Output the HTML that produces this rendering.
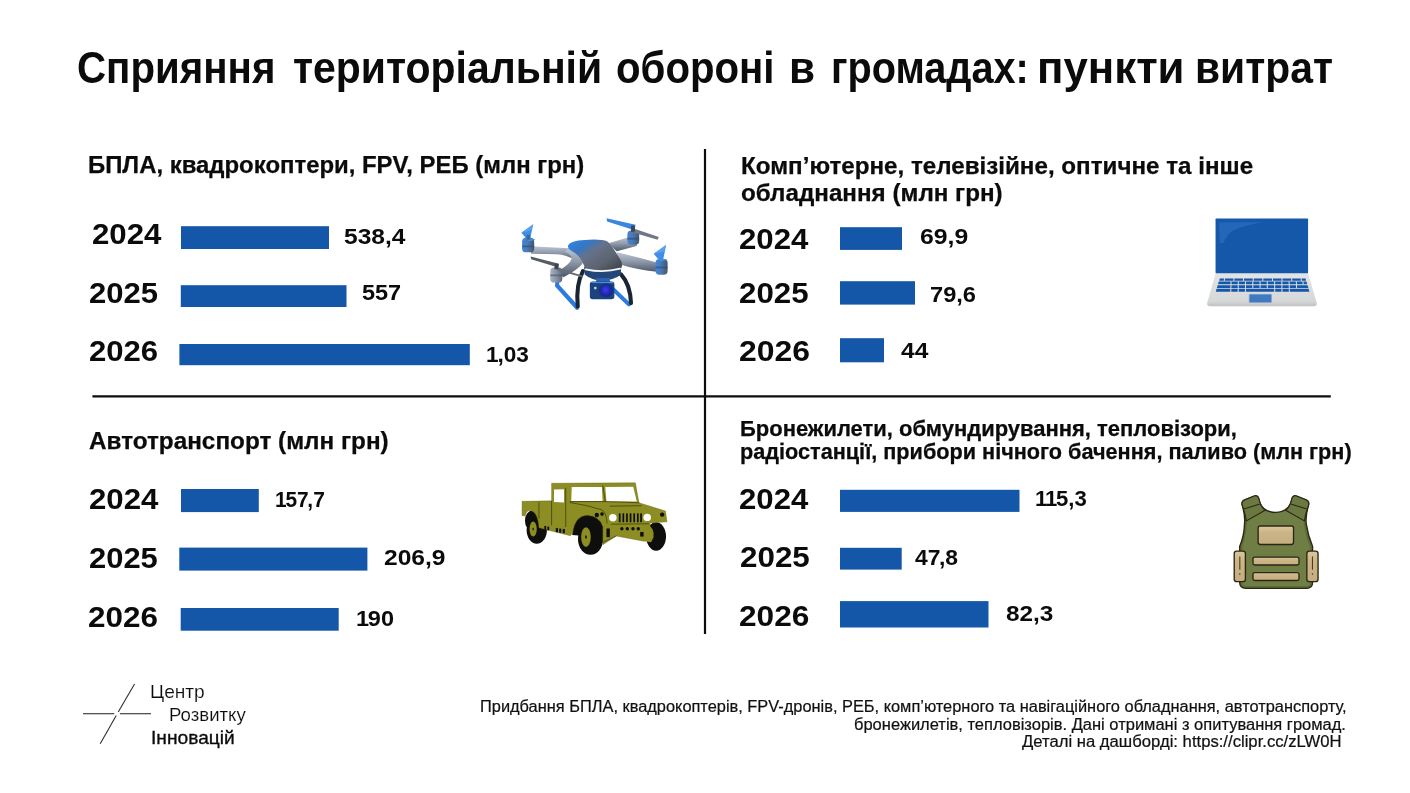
<!DOCTYPE html>
<html lang="uk">
<head>
<meta charset="utf-8">
<title>Сприяння територіальній обороні в громадах: пункти витрат</title>
<style>
html,body{margin:0;padding:0;background:#fff;}
body{width:1410px;height:793px;position:relative;overflow:hidden;font-family:"Liberation Sans",sans-serif;color:#0b0b0b;}
.t{position:absolute;white-space:nowrap;transform-origin:0 0;margin:0;}
.b{font-weight:bold;}
.n{font-weight:normal;color:#111;-webkit-text-stroke:0.22px #111;}
.o{letter-spacing:-1.2px;}
.s{letter-spacing:-1.5px;}
.lt{font-weight:normal;color:#0c0c0c;-webkit-text-stroke:0.15px #fff;}
.lm{font-weight:normal;color:#0a0a0a;-webkit-text-stroke:0.32px #0a0a0a;}
svg{position:absolute;display:block;overflow:visible;}
</style>
</head>
<body>
<h1 style="margin:0;font-size:inherit">
<span class="t b" id="tw0" style="left:77.13px;top:40.51px;font-size:44.3px;line-height:53.16px;transform:scaleX(0.9092);">Сприяння </span>
<span class="t b" id="tw1" style="left:292.64px;top:40.51px;font-size:44.3px;line-height:53.16px;transform:scaleX(0.9244);">територіальній </span>
<span class="t b" id="tw2" style="left:615.53px;top:40.51px;font-size:44.3px;line-height:53.16px;transform:scaleX(0.9077);">обороні </span>
<span class="t b" id="tw3" style="left:788.61px;top:40.51px;font-size:44.3px;line-height:53.16px;transform:scaleX(0.9569);">в </span>
<span class="t b" id="tw4" style="left:831.24px;top:40.51px;font-size:44.3px;line-height:53.16px;transform:scaleX(0.8953);">громадах: </span>
<span class="t b" id="tw5" style="left:1036.70px;top:40.51px;font-size:44.3px;line-height:53.16px;transform:scaleX(0.9884);">пункти </span>
<span class="t b" id="tw6" style="left:1195.19px;top:40.51px;font-size:44.3px;line-height:53.16px;transform:scaleX(0.9223);">витрат </span>
</h1>
<h2 class="t b" id="h1" style="left:87.99px;top:150.71px;font-size:23.8px;line-height:28.56px;transform:scaleX(1.0047);-webkit-text-stroke:0.25px #0b0b0b;">БПЛА, квадрокоптери, FPV, РЕБ (млн грн)</h2>
<h2 class="t b" id="h2a" style="left:740.98px;top:151.71px;font-size:23.8px;line-height:28.56px;transform:scaleX(1.0157);-webkit-text-stroke:0.25px #0b0b0b;">Комп’ютерне, телевізійне, оптичне та інше</h2>
<div class="t b" id="h2b" style="left:740.99px;top:179.30px;font-size:23.8px;line-height:28.56px;transform:scaleX(1.0166);-webkit-text-stroke:0.25px #0b0b0b;">обладнання (млн грн)</div>
<h2 class="t b" id="h3" style="left:88.98px;top:427.00px;font-size:23.8px;line-height:28.56px;transform:scaleX(1.0207);-webkit-text-stroke:0.25px #0b0b0b;">Автотранспорт (млн грн)</h2>
<h2 class="t b" id="h4a" style="left:739.97px;top:417.31px;font-size:21.5px;line-height:25.8px;transform:scaleX(1.0222);-webkit-text-stroke:0.25px #0b0b0b;">Бронежилети, обмундирування, тепловізори,</h2>
<div class="t b" id="h4b" style="left:739.99px;top:440.31px;font-size:21.5px;line-height:25.8px;transform:scaleX(1.0077);-webkit-text-stroke:0.25px #0b0b0b;">радіостанції, прибори нічного бачення, паливо (млн грн)</div>
<div class="t b" id="y11" style="left:91.94px;top:215.91px;font-size:29.4px;line-height:35.28px;transform:scaleX(1.0625);">2024</div>
<div class="t b" id="y12" style="left:88.95px;top:274.51px;font-size:29.4px;line-height:35.28px;transform:scaleX(1.0564);">2025</div>
<div class="t b" id="y13" style="left:88.94px;top:333.41px;font-size:29.4px;line-height:35.28px;transform:scaleX(1.0574);">2026</div>
<div class="t b" id="y21" style="left:738.95px;top:220.91px;font-size:29.4px;line-height:35.28px;transform:scaleX(1.0611);">2024</div>
<div class="t b" id="y22" style="left:738.96px;top:274.60px;font-size:29.4px;line-height:35.28px;transform:scaleX(1.0631);">2025</div>
<div class="t b" id="y23" style="left:738.94px;top:332.51px;font-size:29.4px;line-height:35.28px;transform:scaleX(1.0859);">2026</div>
<div class="t b" id="y31" style="left:88.96px;top:481.21px;font-size:29.4px;line-height:35.28px;transform:scaleX(1.0611);">2024</div>
<div class="t b" id="y32" style="left:88.95px;top:540.30px;font-size:29.4px;line-height:35.28px;transform:scaleX(1.0527);">2025</div>
<div class="t b" id="y33" style="left:87.95px;top:598.51px;font-size:29.4px;line-height:35.28px;transform:scaleX(1.0700);">2026</div>
<div class="t b" id="y41" style="left:738.95px;top:480.71px;font-size:29.4px;line-height:35.28px;transform:scaleX(1.0594);">2024</div>
<div class="t b" id="y42" style="left:739.95px;top:539.21px;font-size:29.4px;line-height:35.28px;transform:scaleX(1.0676);">2025</div>
<div class="t b" id="y43" style="left:738.94px;top:597.91px;font-size:29.4px;line-height:35.28px;transform:scaleX(1.0764);">2026</div>
<div class="t b" id="v11" style="left:343.91px;top:223.01px;font-size:22.5px;line-height:27.0px;transform:scaleX(1.0909);">538,4</div>
<div class="t b" id="v12" style="left:361.98px;top:279.21px;font-size:22.5px;line-height:27.0px;transform:scaleX(1.0425);">557</div>
<div class="t b" id="v13" style="left:486.02px;top:341.01px;font-size:22.5px;line-height:27.0px;transform:scaleX(1.0053);"><span class="o">1</span>,03</div>
<div class="t b" id="v21" style="left:919.86px;top:222.80px;font-size:22.5px;line-height:27.0px;transform:scaleX(1.1005);">69,9</div>
<div class="t b" id="v22" style="left:929.95px;top:280.60px;font-size:22.5px;line-height:27.0px;transform:scaleX(1.0500);">79,6</div>
<div class="t b" id="v23" style="left:900.99px;top:337.01px;font-size:22.5px;line-height:27.0px;transform:scaleX(1.0894);">44</div>
<div class="t b" id="v31" style="left:275.11px;top:486.01px;font-size:22.5px;line-height:27.0px;transform:scaleX(0.9279);"><span class="o">1</span>5<span class="s">7</span>,7</div>
<div class="t b" id="v32" style="left:383.91px;top:544.21px;font-size:22.5px;line-height:27.0px;transform:scaleX(1.0926);">206,9</div>
<div class="t b" id="v33" style="left:355.93px;top:604.91px;font-size:22.5px;line-height:27.0px;transform:scaleX(1.0449);"><span class="o">1</span>90</div>
<div class="t b" id="v41" style="left:1034.99px;top:485.01px;font-size:22.5px;line-height:27.0px;transform:scaleX(0.9824);"><span class="o">1</span><span class="o">1</span>5,3</div>
<div class="t b" id="v42" style="left:914.98px;top:544.30px;font-size:22.5px;line-height:27.0px;transform:scaleX(1.0154);">4<span class="s">7</span>,8</div>
<div class="t b" id="v43" style="left:1005.93px;top:600.01px;font-size:22.5px;line-height:27.0px;transform:scaleX(1.0816);">82,3</div>
<div class="t n" id="n1" style="left:480.04px;top:696.00px;font-size:17.3px;line-height:20.76px;transform:scaleX(0.9476);">Придбання БПЛА, квадрокоптерів, FPV-дронів, РЕБ, комп’ютерного та навігаційного обладнання, автотранспорту,</div>
<div class="t n" id="n2" style="left:854.03px;top:713.50px;font-size:17.3px;line-height:20.76px;transform:scaleX(0.9542);">бронежилетів, тепловізорів. Дані отримані з опитування громад.</div>
<div class="t n" id="n3" style="left:1021.99px;top:731.31px;font-size:17.3px;line-height:20.76px;transform:scaleX(0.9643);">Деталі на дашборді: https://clipr.cc/zLW0H</div>
<div class="t lt" id="l1" style="left:149.95px;top:681.01px;font-size:18.5px;line-height:22.2px;transform:scaleX(1.0342);">Центр</div>
<div class="t lt" id="l2" style="left:168.98px;top:703.81px;font-size:18.5px;line-height:22.2px;transform:scaleX(1.0057);">Розвитку</div>
<div class="t lm" id="l3" style="left:150.93px;top:726.81px;font-size:18.5px;line-height:22.2px;transform:scaleX(1.0362);">Інновацій</div>
<svg id="chart" width="1410" height="793" viewBox="0 0 1410 793" style="left:0;top:0">
<line x1="705" y1="149" x2="705" y2="634" stroke="#0d0d0d" stroke-width="2.2"/>
<line x1="92.4" y1="396.4" x2="1330.8" y2="396.4" stroke="#0d0d0d" stroke-width="2.3"/>
<rect x="181.0" y="226.2" width="148.0" height="22.8" fill="#1456a8"/>
<rect x="180.8" y="285.2" width="165.7" height="21.8" fill="#1456a8"/>
<rect x="179.4" y="344.0" width="290.4" height="21.2" fill="#1456a8"/>
<rect x="840.0" y="227.2" width="62.0" height="22.7" fill="#1456a8"/>
<rect x="840.0" y="281.2" width="75.0" height="23.4" fill="#1456a8"/>
<rect x="840.0" y="338.2" width="44.0" height="24.1" fill="#1456a8"/>
<rect x="181.0" y="489.0" width="77.8" height="23.1" fill="#1456a8"/>
<rect x="179.3" y="547.6" width="188.1" height="23.0" fill="#1456a8"/>
<rect x="180.7" y="608.0" width="158.0" height="22.7" fill="#1456a8"/>
<rect x="840.0" y="489.8" width="179.5" height="22.1" fill="#1456a8"/>
<rect x="840.0" y="547.8" width="61.7" height="21.8" fill="#1456a8"/>
<rect x="840.0" y="601.1" width="148.5" height="26.4" fill="#1456a8"/>
</svg>
<svg id="logo" style="left:70px;top:670px" width="200" height="90" viewBox="0 0 1410 634">
<g stroke="#2b2b2b" stroke-width="7.5" fill="none" stroke-linecap="butt">
<line x1="455" y1="98" x2="340" y2="296"/>
<line x1="326" y1="320" x2="213" y2="520"/>
<line x1="92" y1="308" x2="312" y2="308"/>
<line x1="352" y1="308" x2="571" y2="308"/>
</g>
</svg>
<svg id="drone" style="left:500px;top:200px" width="190" height="120" viewBox="0 0 1256 793">
<defs>
<linearGradient id="dbody" x1="0" y1="0.1" x2="0.9" y2="0.9"><stop offset="0" stop-color="#2d86e6"/><stop offset="0.24" stop-color="#3577c4"/><stop offset="0.42" stop-color="#65728a"/><stop offset="0.75" stop-color="#5d646f"/><stop offset="1" stop-color="#434952"/></linearGradient>
<linearGradient id="darm" x1="0" y1="0" x2="0" y2="1"><stop offset="0" stop-color="#bcc5d2"/><stop offset="0.45" stop-color="#909bab"/><stop offset="1" stop-color="#4c586a"/></linearGradient>
<linearGradient id="dmot" x1="0" y1="0" x2="1" y2="0"><stop offset="0" stop-color="#3f86e0"/><stop offset="0.45" stop-color="#4d78b0"/><stop offset="1" stop-color="#44566e"/></linearGradient>
<linearGradient id="dmot2" x1="0" y1="0" x2="1" y2="0"><stop offset="0" stop-color="#aab4c2"/><stop offset="0.5" stop-color="#8793a6"/><stop offset="1" stop-color="#5e6a7c"/></linearGradient>
<radialGradient id="dlens" cx="0.45" cy="0.45" r="0.6"><stop offset="0" stop-color="#3d3df0"/><stop offset="0.7" stop-color="#2323b8"/><stop offset="1" stop-color="#14267a"/></radialGradient>
</defs>
<!-- back arms -->
<path d="M200 306 Q330 312 456 318 L530 350 L510 398 Q430 362 380 358 L205 356 Z" fill="url(#darm)"/>
<path d="M712 288 L850 246 L908 262 L904 304 L772 338 Z" fill="url(#darm)"/>
<!-- back motors -->
<rect x="146" y="250" width="80" height="96" rx="26" fill="url(#dmot)"/>
<rect x="842" y="202" width="78" height="94" rx="26" fill="url(#dmot)"/>
<path d="M146 300 H226 V312 H146 Z M842 250 H920 V262 H842 Z" fill="#2f4a70" opacity="0.6"/>
<!-- back props -->
<path d="M141 217 L220 160 L200 252 L236 262 L190 274 Z" fill="#3f8fe8"/>
<path d="M141 217 L220 160 L206 200 Z" fill="#5aa2f0"/>
<path d="M704 120 L896 164 L890 200 L708 142 Z" fill="#3a86e0"/>
<path d="M888 190 L1050 244 L1042 262 L884 216 Z" fill="#6f7884"/>
<rect x="866" y="168" width="26" height="42" rx="6" fill="#3c4654"/>
<rect x="176" y="230" width="24" height="32" rx="6" fill="#3a66a2"/>
<!-- front right arm -->
<path d="M770 346 Q900 374 1042 414 L1052 476 Q900 460 800 428 Z" fill="url(#darm)"/>
<!-- front left arm -->
<path d="M452 318 Q548 336 556 400 Q540 448 420 510 L376 474 Q470 424 474 384 Q462 352 430 342 Z" fill="url(#darm)"/>
<!-- legs -->
<path d="M378 540 L378 572" stroke="#2b7be0" stroke-width="26" fill="none"/>
<path d="M378 566 L510 712" stroke="#2b7be0" stroke-width="28" stroke-linecap="round" fill="none"/>
<path d="M746 588 L852 690" stroke="#2b7be0" stroke-width="27" stroke-linecap="round" fill="none"/>
<path d="M548 470 Q500 560 514 704" stroke="#1a2532" stroke-width="27" stroke-linecap="round" fill="none"/>
<path d="M800 492 Q862 560 866 682" stroke="#1a2532" stroke-width="27" stroke-linecap="round" fill="none"/>
<!-- lower body -->
<path d="M556 440 L802 430 L798 496 Q740 534 680 532 Q610 534 560 492 Z" fill="#24477a"/>
<!-- camera -->
<rect x="636" y="516" width="90" height="40" fill="#2a65b6"/>
<rect x="594" y="538" width="162" height="118" rx="18" fill="#1c4280"/>
<path d="M600 548 Q604 542 616 542 L740 542 Q750 542 752 550 Z" fill="#4d8fdc"/>
<circle cx="702" cy="598" r="48" fill="#12367a"/>
<circle cx="702" cy="598" r="37" fill="url(#dlens)"/>
<circle cx="630" cy="582" r="9" fill="#b4d4f6"/>
<!-- body -->
<path d="M450 300 Q464 268 560 264 Q670 256 710 274 Q736 294 802 404 Q816 446 788 460 Q700 482 600 468 Q560 458 544 406 Q524 364 472 336 Q444 320 450 300 Z" fill="url(#dbody)"/>
<path d="M566 458 Q680 484 794 454" stroke="#f6f9fc" stroke-width="12" fill="none" stroke-linecap="round"/>
<!-- front motors -->
<rect x="1028" y="390" width="80" height="104" rx="26" fill="url(#dmot)"/>
<path d="M1028 440 H1108 V452 H1028 Z" fill="#2f4a70" opacity="0.6"/>
<rect x="332" y="446" width="80" height="100" rx="26" fill="url(#dmot2)"/>
<path d="M332 492 H412 V504 H332 Z" fill="#4a5566" opacity="0.6"/>
<!-- front props -->
<path d="M1016 356 L1098 298 L1080 388 L1108 396 L1060 406 Z" fill="#3f8fe8"/>
<path d="M1016 356 L1098 298 L1084 340 Z" fill="#5aa2f0"/>
<path d="M202 374 L390 422 L386 446 L206 392 Z" fill="#555c66"/>
<path d="M384 450 L548 500 L544 510 L380 466 Z" fill="#666e78"/>
<rect x="360" y="422" width="26" height="36" rx="6" fill="#3c4654"/>
</svg>
<svg id="laptop" style="left:1190px;top:205px" width="140" height="115" viewBox="0 0 965 793">
<defs>
<linearGradient id="lpb" x1="0" y1="0" x2="0" y2="1"><stop offset="0" stop-color="#e3e4e5"/><stop offset="0.85" stop-color="#d6d7d8"/><stop offset="1" stop-color="#bfc1c3"/></linearGradient>
</defs>
<path d="M178 466 L812 466 L874 676 Q878 696 858 698 L134 698 Q114 696 118 676 Z" fill="url(#lpb)"/>
<rect x="176" y="93" width="638" height="377" rx="6" fill="#1557a9"/>
<path d="M200 120 L500 118 Q330 150 280 190 Q250 215 232 262 L205 262 Z" fill="#2a6cbd" opacity="0.75"/>
<g fill="#1557a9">
<path d="M205 506 L797 506 L800 522 L202 522 Z"/>
<path d="M198 528 L803 528 L808 547 L193 547 Z"/>
<path d="M190 553 L811 553 L816 572 L185 572 Z"/>
<path d="M183 578 L818 578 L823 598 L178 598 Z"/>
</g>
<g stroke="#dcdddf" stroke-width="7" fill="none">
<path d="M238 504 L236 524 M303 504 L302 524 M369 504 L368 524 M436 504 L436 524 M502 504 L502 524 M568 504 L569 524 M634 504 L635 524 M700 504 L702 524 M766 504 L768 524"/>
<path d="M283 526 L281 600 M333 526 L332 600 M383 526 L382 600 M433 526 L433 574 M483 526 L483 574 M533 526 L533 574 M583 526 L584 600 M633 526 L634 600 M683 526 L685 600 M733 526 L735 574 M778 526 L781 549"/>
</g>
<rect x="408" y="616" width="154" height="56" rx="5" fill="#3f7ac0" stroke="#7fa6d6" stroke-width="4"/>
</svg>
<svg id="car" style="left:510px;top:470px" width="170" height="95" viewBox="0 0 1410 788">
<g fill="#0e0e0c">
<!-- wheels -->
<ellipse cx="222" cy="500" rx="84" ry="112"/>
<ellipse cx="668" cy="572" rx="104" ry="132"/>
<ellipse cx="1212" cy="552" rx="82" ry="118"/>
<ellipse cx="190" cy="420" rx="66" ry="86"/>
<path d="M516 540 Q520 372 640 372 Q760 372 774 480 L774 560 Z"/>
</g>
<g fill="#8c8d22" stroke="#5c5d12" stroke-width="3" stroke-linejoin="round">
<!-- bed + side body -->
<path d="M100 260 L345 256 L345 110 L1040 106 L1070 272 L1290 340 L1302 430 L1160 440 L1170 560 L1110 590 L880 548 L770 620 L770 470 Q740 380 640 376 Q540 380 520 520 L500 545 L240 480 Q232 350 170 336 Q130 336 128 380 L100 380 Z"/>
</g>
<!-- windows -->
<g fill="#ffffff">
<path d="M365 162 L448 160 L448 270 L365 266 Z"/>
<path d="M512 142 L762 140 L768 258 L508 258 Z"/>
<path d="M790 140 L1022 138 L1052 262 L800 260 Z"/>
<circle cx="853" cy="397" r="31"/>
<circle cx="1138" cy="393" r="31"/>
</g>
<!-- hub caps -->
<g fill="#8c8d22">
<ellipse cx="192" cy="490" rx="30" ry="62"/>
<ellipse cx="630" cy="556" rx="40" ry="82"/>
<path d="M1130 450 Q1200 470 1190 560 L1170 600 L1110 590 L1120 470 Z"/>
</g>
<g fill="#0e0e0c">
<ellipse cx="192" cy="490" rx="6" ry="12"/>
<ellipse cx="630" cy="556" rx="7" ry="14"/>
<!-- grille -->
<rect x="903" y="358" width="14" height="76" rx="5"/>
<rect x="933" y="358" width="14" height="76" rx="5"/>
<rect x="963" y="358" width="14" height="76" rx="5"/>
<rect x="993" y="358" width="14" height="76" rx="5"/>
<rect x="1023" y="358" width="14" height="76" rx="5"/>
<rect x="1053" y="358" width="14" height="76" rx="5"/>
<rect x="1080" y="358" width="14" height="76" rx="5"/>
<!-- bumper dots -->
<circle cx="928" cy="487" r="14"/><circle cx="973" cy="487" r="14"/><circle cx="1020" cy="487" r="14"/><circle cx="1064" cy="487" r="14"/>
<!-- markers -->
<circle cx="720" cy="373" r="18"/><circle cx="763" cy="366" r="15"/><circle cx="1262" cy="370" r="18"/>
<rect x="800" y="485" width="28" height="72"/>
<rect x="1080" y="514" width="28" height="38"/>
<!-- side steps -->
<rect x="285" y="464" width="15" height="32"/><rect x="310" y="470" width="15" height="30"/>
<rect x="380" y="482" width="18" height="34"/><rect x="408" y="486" width="17" height="34"/><rect x="437" y="490" width="18" height="34"/>
</g>
<g fill="none" stroke="#2a2a0a" stroke-width="5" stroke-linecap="round">
<path d="M345 258 L345 455"/>
<path d="M462 150 L462 470"/>
<path d="M498 270 Q640 290 760 330 Q800 350 805 440"/>
<path d="M1070 272 L800 262 L500 262"/>
<path d="M830 300 L1090 296"/>
<path d="M840 450 L1150 446"/>
<path d="M240 270 L240 400"/>
<path d="M770 130 L790 262"/>
<path d="M770 600 L880 548"/>
</g>
</svg>
<svg id="vest" style="left:1210px;top:480px" width="130" height="120" viewBox="0 0 859 793">
<defs>
<linearGradient id="vtan" x1="0" y1="0" x2="0" y2="1"><stop offset="0" stop-color="#dac79e"/><stop offset="0.35" stop-color="#cbb588"/><stop offset="1" stop-color="#c4ad7e"/></linearGradient>
</defs>
<g stroke="#2e2614" stroke-width="9" stroke-linejoin="round" stroke-linecap="round">
<path d="M214 170 Q204 140 232 130 L292 106 Q318 98 324 128 Q340 212 432 214 Q524 212 540 128 Q546 98 572 106 L632 130 Q660 140 650 170 Q630 240 636 290 Q648 370 678 440 L678 676 Q678 716 638 716 L236 716 Q196 716 196 676 L196 440 Q226 370 228 290 Q234 240 214 170 Z" fill="#5d6b38"/>
<path d="M246 272 L362 204 Q432 236 502 204 L618 272 Q630 370 660 440 L660 680 Q660 700 638 700 L236 700 Q214 700 214 680 L214 440 Q238 370 246 272 Z" fill="#6f7e45" stroke="none"/>
<path d="M214 170 Q204 140 232 130 L292 106 Q318 98 324 128 Q334 176 364 200 L240 270 Q236 230 214 170 Z" fill="#6a7841" stroke-width="7"/>
<path d="M650 170 Q660 140 632 130 L572 106 Q546 98 540 128 Q530 176 500 200 L624 270 Q628 230 650 170 Z" fill="#6a7841" stroke-width="7"/>
<path d="M228 190 L326 160" fill="none" stroke-width="7"/>
<path d="M636 190 L538 160" fill="none" stroke-width="7"/>
<rect x="318" y="304" width="234" height="122" rx="14" fill="url(#vtan)"/>
<rect x="284" y="510" width="304" height="52" rx="12" fill="url(#vtan)"/>
<rect x="284" y="612" width="304" height="52" rx="12" fill="url(#vtan)"/>
<rect x="160" y="470" width="74" height="202" rx="16" fill="url(#vtan)"/>
<rect x="640" y="470" width="74" height="202" rx="16" fill="url(#vtan)"/>
<path d="M197 508 L197 590 M677 508 L677 590" fill="none" stroke-width="7" stroke="#4a3a22"/>
</g>
<circle cx="197" cy="622" r="5" fill="#4a3a22"/><circle cx="677" cy="622" r="5" fill="#4a3a22"/>
</svg>
</body>
</html>
